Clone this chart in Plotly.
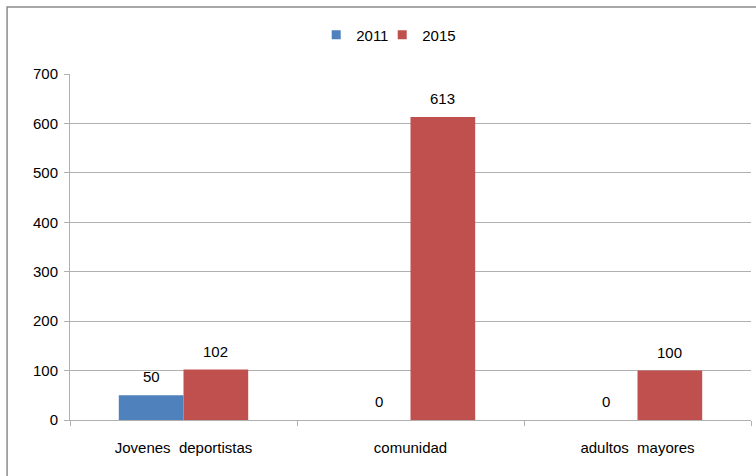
import plotly.graph_objects as go

categories = ["Jovenes  deportistas", "comunidad", "adultos  mayores"]
series_names = ["2011", "2015"]
values_2011 = [50, 0, 0]
values_2015 = [102, 613, 100]
colors = ["#4F81BD", "#C0504D"]

FONT = "Liberation Sans, Arial"

fig = go.Figure()
for name, vals, col in zip(series_names, [values_2011, values_2015], colors):
    fig.add_trace(go.Bar(name=name, x=categories, y=vals, marker_color=col,
                         marker_line_width=0, showlegend=False))
# legend entries with small square swatches
for i, (name, col) in enumerate(zip(series_names, colors)):
    fig.add_trace(go.Scatter(name=name, x=[None], y=[None], mode="markers",
                             marker=dict(symbol="square", size=9, color=col),
                             showlegend=True,
                             legendwidth=(21 if i == 0 else None)))

annotations = []
for vals, shift in zip([values_2011, values_2015], [-32, 32]):
    for c, v in zip(categories, vals):
        annotations.append(dict(x=c, y=v, text=str(v), showarrow=False,
                                xshift=shift, yshift=8, yanchor="bottom",
                                font=dict(family=FONT, size=15, color="#000000")))

fig.update_layout(
    width=756, height=476,
    margin=dict(l=70, r=5, t=74, b=56),
    paper_bgcolor="white", plot_bgcolor="white",
    barmode="group", bargap=0.43, bargroupgap=0,
    font=dict(family=FONT, size=15, color="#000000"),
    showlegend=True,
    legend=dict(orientation="h", x=0.468, xanchor="center", y=1.113, yanchor="middle",
                font=dict(family=FONT, size=15), itemwidth=30, traceorder="normal",
                tracegroupgap=0),
    annotations=annotations,
    shapes=[dict(type="rect", xref="paper", yref="paper",
                 x0=-0.0924, x1=1.03, y0=-0.3, y1=1.1936,
                 line=dict(color="#8C8C8C", width=1.5), fillcolor="rgba(0,0,0,0)",
                 layer="below")],
)
fig.update_yaxes(range=[0, 700], dtick=100, showgrid=True, gridcolor="#B0B0B0",
                 gridwidth=1, showline=True, linecolor="#B0B0B0", ticks="outside",
                 ticklen=5, tickcolor="#B0B0B0", zeroline=False, ticklabelstandoff=3,
                 tickfont=dict(family=FONT, size=15))
fig.update_xaxes(showline=True, linecolor="#B0B0B0", ticks="outside", ticklen=5,
                 tickcolor="#B0B0B0", tickson="boundaries", ticklabelstandoff=14,
                 tickfont=dict(family=FONT, size=15))

fig.write_html("out.html", config={"displayModeBar": False},
               post_script="document.body.style.margin='0';document.body.style.overflow='hidden';")
